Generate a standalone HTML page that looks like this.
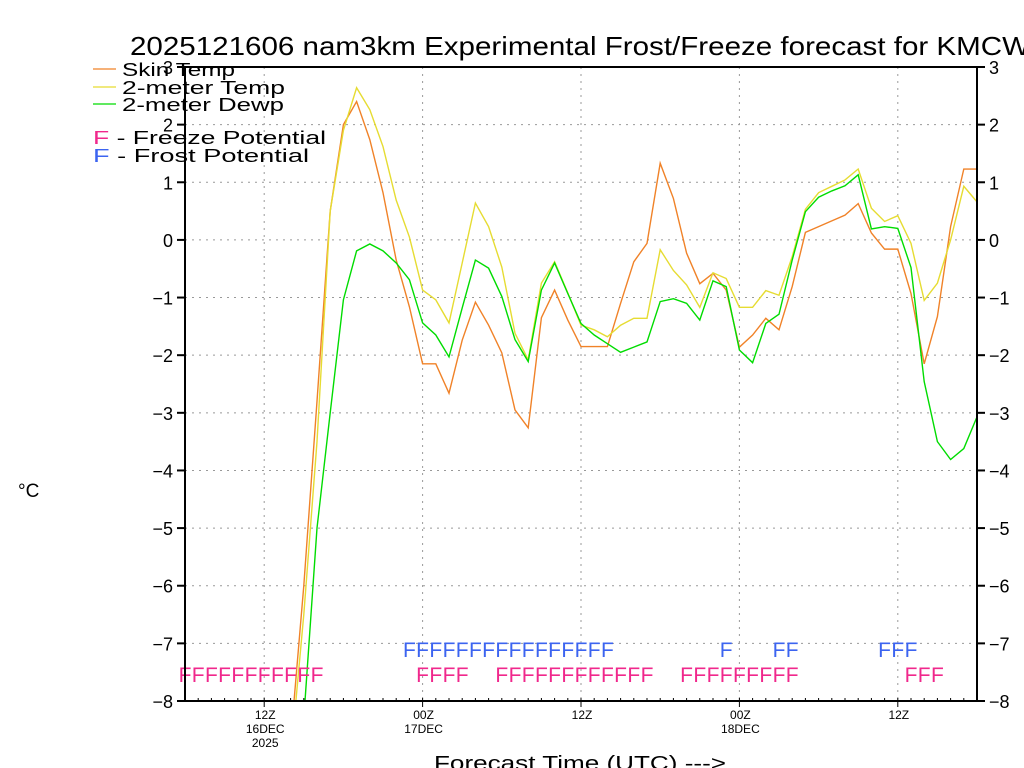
<!DOCTYPE html>
<html><head><meta charset="utf-8"><style>
html,body{margin:0;padding:0;background:#fff;overflow:hidden;width:1024px;height:768px;}
svg{display:block;font-family:"Liberation Sans",sans-serif;}
</style></head><body>
<svg id="chart" width="1024" height="768" viewBox="0 0 1024 768" xmlns="http://www.w3.org/2000/svg">
<text x="130" y="55" font-size="26" fill="#000" textLength="900" lengthAdjust="spacingAndGlyphs">2025121606 nam3km Experimental Frost/Freeze forecast for KMCW</text>
<g id="grid"></g>
<defs><clipPath id="pc"><rect x="185" y="67" width="792" height="634"/></clipPath></defs>
<g id="series" clip-path="url(#pc)"></g>
<g id="marks"></g>
<rect x="185" y="67" width="792" height="634" fill="none" stroke="#000" stroke-width="2"/>
<g id="axes"></g>
<text x="18" y="497" font-size="19" fill="#000">°C</text>
<text x="434" y="770" font-size="20" fill="#000" textLength="292" lengthAdjust="spacingAndGlyphs">Forecast Time (UTC) ---&gt;</text>
<g>
<line x1="93" y1="69" x2="116" y2="69" stroke="#f08228" stroke-width="1.3"/>
<text x="122" y="76" font-size="18" fill="#000" textLength="113" lengthAdjust="spacingAndGlyphs">Skin Temp</text>
<line x1="93" y1="87" x2="116" y2="87" stroke="#e6dc32" stroke-width="1.3"/>
<text x="122" y="94" font-size="18" fill="#000" textLength="163" lengthAdjust="spacingAndGlyphs">2-meter Temp</text>
<line x1="93" y1="104" x2="116" y2="104" stroke="#00dc00" stroke-width="1.3"/>
<text x="122" y="111" font-size="18" fill="#000" textLength="162" lengthAdjust="spacingAndGlyphs">2-meter Dewp</text>
<text x="93" y="144" font-size="18" fill="#000" textLength="233" lengthAdjust="spacingAndGlyphs"><tspan fill="#f0288c">F</tspan> - Freeze Potential</text>
<text x="93" y="162" font-size="18" fill="#000" textLength="216" lengthAdjust="spacingAndGlyphs"><tspan fill="#3c64f0">F</tspan> - Frost Potential</text>
</g>
</svg>
<script>
const hours = Array.from({length:61},(_,i)=>i);
const skinTemp = [-12,-12,-12,-12,-12,-12,-12,-12,-8.7,-6,-2.8,0.5,2.0,2.4,1.74,0.82,-0.35,-1.16,-2.15,-2.15,-2.66,-1.74,-1.08,-1.48,-1.96,-2.95,-3.26,-1.35,-0.87,-1.39,-1.85,-1.85,-1.85,-1.10,-0.38,-0.06,1.33,0.72,-0.23,-0.76,-0.58,-0.87,-1.86,-1.65,-1.36,-1.56,-0.81,0.13,0.23,0.33,0.43,0.63,0.12,-0.16,-0.16,-0.93,-2.15,-1.33,0.23,1.23,1.23];
const temp2m = [-12,-12,-12,-12,-12,-12,-12,-12,-9.0,-6.5,-3.5,0.5,1.9,2.64,2.26,1.62,0.69,0.05,-0.87,-1.04,-1.44,-0.4,0.64,0.23,-0.47,-1.62,-2.08,-0.75,-0.38,-0.92,-1.48,-1.56,-1.68,-1.48,-1.36,-1.36,-0.17,-0.53,-0.78,-1.17,-0.57,-0.67,-1.17,-1.17,-0.88,-0.96,-0.29,0.53,0.82,0.93,1.04,1.23,0.55,0.32,0.42,-0.06,-1.05,-0.75,0.0,0.93,0.66];
const dewp2m = [-12,-12,-12,-12,-12,-12,-12,-12,-11,-8.3,-5.0,-3.0,-1.04,-0.19,-0.07,-0.19,-0.4,-0.69,-1.44,-1.65,-2.03,-1.18,-0.35,-0.49,-0.98,-1.73,-2.11,-0.87,-0.4,-0.93,-1.45,-1.65,-1.80,-1.95,-1.86,-1.77,-1.07,-1.02,-1.10,-1.39,-0.71,-0.81,-1.91,-2.13,-1.45,-1.29,-0.35,0.49,0.74,0.85,0.94,1.13,0.19,0.23,0.20,-0.48,-2.46,-3.50,-3.81,-3.62,-3.07];
const freezeHours = [0,1,2,3,4,5,6,7,8,9,10,18,19,20,21,24,25,26,27,28,29,30,31,32,33,34,35,38,39,40,41,42,43,44,45,46,55,56,57];
const frostHours = [17,18,19,20,21,22,23,24,25,26,27,28,29,30,31,32,41,45,46,53,54,55];
const yTicks = [3,2,1,0,-1,-2,-3,-4,-5,-6,-7,-8];
const xTickHours = [6,18,30,42,54];
const xTickLabels = [["12Z","16DEC","2025"],["00Z","17DEC"],["12Z"],["00Z","18DEC"],["12Z"]];

const NS="http://www.w3.org/2000/svg";
const X=h=>185+h*(792/60);
const Y=t=>67+(3-t)*(634/11);
function mk(tag,attrs,parent){const e=document.createElementNS(NS,tag);for(const k in attrs)e.setAttribute(k,attrs[k]);parent.appendChild(e);return e;}
const grid=document.getElementById('grid'),axes=document.getElementById('axes'),series=document.getElementById('series'),marks=document.getElementById('marks');

yTicks.forEach(t=>{
  const g=mk('line',{x1:185,x2:977,y1:Y(t),y2:Y(t),stroke:'#999','stroke-dasharray':'2,5'},grid);
  
  
  const a=mk('line',{x1:177,x2:185,y1:Y(t),y2:Y(t),stroke:'#000','stroke-width':2},axes);
  
  
  const b=mk('line',{x1:977,x2:985,y1:Y(t),y2:Y(t),stroke:'#000','stroke-width':2},axes);
  
  
  const s=(t<0?'\u2212':'')+Math.abs(t);
  const l=mk('text',{x:173,y:Y(t)+7,'font-size':18,'text-anchor':'end',fill:'#000'},axes);l.textContent=s;
  
  
  const r=mk('text',{x:989,y:Y(t)+7,'font-size':18,fill:'#000'},axes);r.textContent=s;
  
  
});
hours.forEach(h=>{
  const t=mk('line',{x1:X(h),x2:X(h),y1:698,y2:701,stroke:'#000'},axes);
  
  
});
xTickHours.forEach((h,i)=>{
  const g=mk('line',{x1:X(h),x2:X(h),y1:67,y2:701,stroke:'#999','stroke-dasharray':'2,5'},grid);
  
  
  const t=mk('line',{x1:X(h),x2:X(h),y1:701,y2:707,stroke:'#000'},axes);
  
  
  xTickLabels[i].forEach((s,j)=>{
    const l=mk('text',{x:X(h)+1,y:719+j*14,'font-size':12,'text-anchor':'middle',fill:'#000'},axes);l.textContent=s;
    
    
  });
});
[[skinTemp,'#f08228','skin-temp-line'],[temp2m,'#e6dc32','temp-2m-line'],[dewp2m,'#00dc00','dewpoint-2m-line']].forEach(([d,c,n])=>{
  const p=mk('polyline',{points:d.map((v,i)=>X(hours[i])+','+Y(v)).join(' '),fill:'none',stroke:c,'stroke-width':1.4},series);
  
  
});
freezeHours.forEach(h=>{
  const t=mk('text',{x:X(h),y:682,'font-size':21,'text-anchor':'middle',fill:'#f0288c'},marks);t.textContent='F';
  
  
});
frostHours.forEach(h=>{
  const t=mk('text',{x:X(h),y:657,'font-size':21,'text-anchor':'middle',fill:'#3c64f0'},marks);t.textContent='F';
  
  
});
</script>
</body></html>
